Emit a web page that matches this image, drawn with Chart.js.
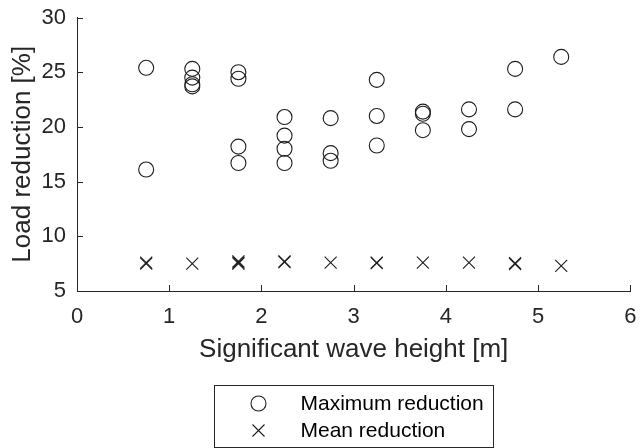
<!DOCTYPE html>
<html>
<head>
<meta charset="utf-8">
<script src="https://cdn.jsdelivr.net/npm/chart.js@4/dist/chart.umd.min.js"></script>
<style>
  html, body { margin: 0; padding: 0; background: #ffffff; }
  #wrap { width: 640px; height: 448px; }
</style>
</head>
<body>
<div id="wrap"><canvas id="chart" width="640" height="448"></canvas></div>
<script>
// Significant wave height [m] of each simulated sea state
const maxHs = [0.75, 0.75,
               1.25, 1.25, 1.25, 1.25,
               1.75, 1.75, 1.75, 1.75,
               2.25, 2.25, 2.25, 2.25,
               2.75, 2.75, 2.75,
               3.25, 3.25, 3.25,
               3.75, 3.75, 3.75,
               4.25, 4.25,
               4.75, 4.75,
               5.25];
// Maximum load reduction [%] per sea state
const maxLoad = [25.4, 16.1,
                 25.3, 24.5, 23.9, 23.7,
                 25.0, 24.4, 18.2, 16.7,
                 20.9, 19.2, 18.0, 16.7,
                 20.8, 17.6, 16.9,
                 24.3, 21.0, 18.3,
                 21.4, 21.2, 19.7,
                 21.6, 19.8,
                 25.3, 21.6,
                 26.4];

const meanHs = [0.75, 0.75, 1.25, 1.75, 1.75, 1.75, 2.25, 2.25, 2.75,
                3.25, 3.25, 3.75, 4.25, 4.75, 4.75, 5.25];
// Mean load reduction [%] per sea state
const meanLoad = [7.5, 7.6, 7.5, 7.5, 7.6, 7.7, 7.7, 7.65, 7.6,
                  7.55, 7.6, 7.6, 7.6, 7.45, 7.55, 7.3];

const xTicks = [0, 1, 2, 3, 4, 5, 6];
const yTicks = [5, 10, 15, 20, 25, 30];
const seriesNames = ['Maximum reduction', 'Mean reduction'];

const FONT = "'Liberation Sans', Arial, Helvetica, sans-serif";
const AXIS_COLOR = '#262626';
const MARK_COLOR = '#1e1e1e';

const toPoints = (xs, ys) => xs.map((x, i) => ({ x: x, y: ys[i] }));

// tick marks pointing into the plot area
const inwardTicks = {
  id: 'inwardTicks',
  afterDraw(chart) {
    const { ctx, chartArea, scales } = chart;
    const len = 6;
    ctx.save();
    ctx.strokeStyle = AXIS_COLOR;
    ctx.lineWidth = 1;
    ctx.beginPath();
    scales.x.ticks.forEach(t => {
      const px = Math.round(scales.x.getPixelForValue(t.value)) + 0.5;
      ctx.moveTo(px, chartArea.bottom);
      ctx.lineTo(px, chartArea.bottom - len);
    });
    scales.y.ticks.forEach(t => {
      const py = Math.round(scales.y.getPixelForValue(t.value)) + 0.5;
      ctx.moveTo(chartArea.left, py);
      ctx.lineTo(chartArea.left + len, py);
    });
    ctx.stroke();
    ctx.restore();
  }
};

// boxed legend centred under the axes
const boxLegend = {
  id: 'boxLegend',
  afterDraw(chart) {
    const { ctx, chartArea } = chart;
    const w = 279, h = 62;
    const cx = (chartArea.left + chartArea.right) / 2;
    const left = Math.round(cx - w / 2) + 0.5;
    const top = 385.5;
    ctx.save();
    ctx.strokeStyle = AXIS_COLOR;
    ctx.lineWidth = 1;
    ctx.strokeRect(left, top, w, h);
    chart.data.datasets.forEach((ds, i) => {
      const y = top + 18 + i * 27;
      ctx.save();
      ctx.strokeStyle = ds.pointBorderColor;
      ctx.fillStyle = 'rgba(0,0,0,0)';
      ctx.lineWidth = ds.pointBorderWidth;
      Chart.helpers.drawPoint(ctx, {
        pointStyle: ds.pointStyle,
        radius: ds.pointRadius,
        borderWidth: ds.pointBorderWidth,
        rotation: 0
      }, left + 44, y);
      ctx.restore();
      ctx.fillStyle = '#000000';
      ctx.font = '21px ' + FONT;
      ctx.textBaseline = 'middle';
      ctx.textAlign = 'left';
      ctx.fillText(ds.label, left + 86, y + 1);
    });
    ctx.restore();
  }
};

new Chart(document.getElementById('chart'), {
  type: 'scatter',
  data: {
    datasets: [
      {
        label: seriesNames[0],
        data: toPoints(maxHs, maxLoad),
        pointStyle: 'circle',
        pointRadius: 7.5,
        pointHoverRadius: 7.5,
        pointBorderWidth: 1.1,
        pointBorderColor: MARK_COLOR,
        pointBackgroundColor: 'rgba(0,0,0,0)',
        showLine: false
      },
      {
        label: seriesNames[1],
        data: toPoints(meanHs, meanLoad),
        pointStyle: 'crossRot',
        pointRadius: 8.5,
        pointHoverRadius: 8.5,
        pointBorderWidth: 1.1,
        pointBorderColor: MARK_COLOR,
        pointBackgroundColor: 'rgba(0,0,0,0)',
        showLine: false
      }
    ]
  },
  options: {
    responsive: false,
    animation: false,
    events: [],
    layout: { padding: { left: 0, top: 17.5, right: 9, bottom: 83 } },
    plugins: {
      legend: { display: false },
      tooltip: { enabled: false }
    },
    scales: {
      x: {
        type: 'linear',
        min: xTicks[0],
        max: xTicks[xTicks.length - 1],
        afterBuildTicks(scale) { scale.ticks = xTicks.map(v => ({ value: v })); },
        ticks: {
          color: AXIS_COLOR,
          font: { family: FONT, size: 22 },
          padding: 12.5,
          maxRotation: 0
        },
        grid: { drawOnChartArea: false, drawTicks: false },
        border: { display: true, color: AXIS_COLOR, width: 1 },
        title: {
          display: true,
          text: 'Significant wave height [m]',
          color: AXIS_COLOR,
          font: { family: FONT, size: 26 },
          padding: { top: 0, bottom: 0 }
        },
        afterFit(scale) {
          scale.height = 74;
          scale.paddingLeft = 0;
          scale.paddingRight = 0;
        }
      },
      y: {
        type: 'linear',
        min: yTicks[0],
        max: yTicks[yTicks.length - 1],
        afterBuildTicks(scale) { scale.ticks = yTicks.map(v => ({ value: v })); },
        ticks: {
          color: AXIS_COLOR,
          font: { family: FONT, size: 22 },
          padding: 11
        },
        grid: { drawOnChartArea: false, drawTicks: false },
        border: { display: true, color: AXIS_COLOR, width: 1 },
        title: {
          display: true,
          text: 'Load reduction [%]',
          color: AXIS_COLOR,
          font: { family: FONT, size: 26 },
          padding: { top: 7, bottom: 0 }
        },
        afterFit(scale) {
          scale.width = 77;
          scale.paddingTop = 0;
          scale.paddingBottom = 0;
        }
      }
    }
  },
  plugins: [inwardTicks, boxLegend]
});
</script>
</body>
</html>
